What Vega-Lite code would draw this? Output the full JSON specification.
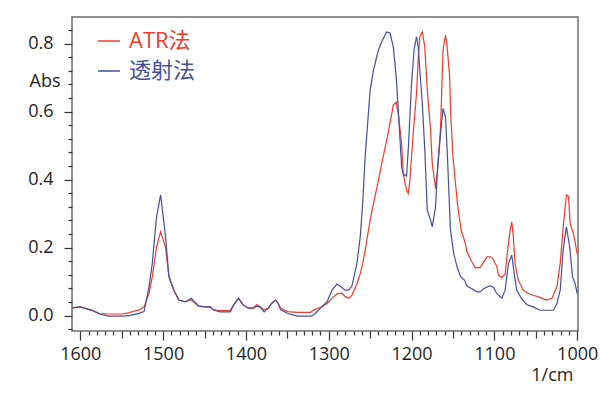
{
  "$schema": "https://vega.github.io/schema/vega-lite/v6.json",
  "width": 506,
  "height": 314,
  "autosize": "none",
  "padding": {"left": 72, "top": 17, "right": 38, "bottom": 63},
  "background": "white",
  "config": {
    "view": {"stroke": "#6d6d6d", "strokeWidth": 1.5},
    "axis": {"domain": false, "grid": false, "tickColor": "#333333", "tickWidth": 1.2, "labelColor": "#231f20", "titleColor": "#231f20", "labelFont": "Open Sans", "titleFont": "Open Sans", "labelFontSize": 18, "titleFontSize": 18, "titleFontWeight": "normal"}
  },
  "data": {"values": [
    {"w":1610,"s":"ATR法","a":0.023},{"w":1600,"s":"ATR法","a":0.026},{"w":1585,"s":"ATR法","a":0.015},{"w":1577,"s":"ATR法","a":0.006},{"w":1566,"s":"ATR法","a":0.005},{"w":1549,"s":"ATR法","a":0.005},{"w":1541,"s":"ATR法","a":0.009},{"w":1529,"s":"ATR法","a":0.017},{"w":1523,"s":"ATR法","a":0.026},{"w":1517,"s":"ATR法","a":0.066},{"w":1513,"s":"ATR法","a":0.115},{"w":1508,"s":"ATR法","a":0.2},{"w":1503,"s":"ATR法","a":0.247},{"w":1497,"s":"ATR法","a":0.2},{"w":1493,"s":"ATR法","a":0.115},{"w":1487,"s":"ATR法","a":0.075},{"w":1481,"s":"ATR法","a":0.046},{"w":1473,"s":"ATR法","a":0.041},{"w":1466,"s":"ATR法","a":0.046},{"w":1457,"s":"ATR法","a":0.028},{"w":1449,"s":"ATR法","a":0.026},{"w":1443,"s":"ATR法","a":0.026},{"w":1439,"s":"ATR法","a":0.017},{"w":1431,"s":"ATR法","a":0.015},{"w":1419,"s":"ATR法","a":0.015},{"w":1415,"s":"ATR法","a":0.031},{"w":1409,"s":"ATR法","a":0.051},{"w":1403,"s":"ATR法","a":0.031},{"w":1397,"s":"ATR法","a":0.022},{"w":1391,"s":"ATR法","a":0.022},{"w":1387,"s":"ATR法","a":0.033},{"w":1383,"s":"ATR法","a":0.026},{"w":1378,"s":"ATR法","a":0.017},{"w":1373,"s":"ATR法","a":0.022},{"w":1369,"s":"ATR法","a":0.036},{"w":1364,"s":"ATR法","a":0.046},{"w":1361,"s":"ATR法","a":0.036},{"w":1358,"s":"ATR法","a":0.022},{"w":1350,"s":"ATR法","a":0.012},{"w":1338,"s":"ATR法","a":0.01},{"w":1322,"s":"ATR法","a":0.01},{"w":1318,"s":"ATR法","a":0.017},{"w":1310,"s":"ATR法","a":0.025},{"w":1302,"s":"ATR法","a":0.036},{"w":1296,"s":"ATR法","a":0.051},{"w":1290,"s":"ATR法","a":0.064},{"w":1284,"s":"ATR法","a":0.066},{"w":1280,"s":"ATR法","a":0.056},{"w":1276,"s":"ATR法","a":0.051},{"w":1272,"s":"ATR法","a":0.06},{"w":1266,"s":"ATR法","a":0.094},{"w":1262,"s":"ATR法","a":0.123},{"w":1259,"s":"ATR法","a":0.153},{"w":1256,"s":"ATR法","a":0.192},{"w":1250,"s":"ATR法","a":0.281},{"w":1246,"s":"ATR法","a":0.329},{"w":1240,"s":"ATR法","a":0.398},{"w":1236,"s":"ATR法","a":0.447},{"w":1230,"s":"ATR法","a":0.516},{"w":1226,"s":"ATR法","a":0.565},{"w":1222,"s":"ATR法","a":0.619},{"w":1218.5,"s":"ATR法","a":0.628},{"w":1216,"s":"ATR法","a":0.594},{"w":1212,"s":"ATR法","a":0.506},{"w":1210,"s":"ATR法","a":0.417},{"w":1206,"s":"ATR法","a":0.369},{"w":1204,"s":"ATR法","a":0.359},{"w":1202,"s":"ATR法","a":0.398},{"w":1200,"s":"ATR法","a":0.467},{"w":1197,"s":"ATR法","a":0.565},{"w":1194,"s":"ATR法","a":0.653},{"w":1192,"s":"ATR法","a":0.751},{"w":1190,"s":"ATR法","a":0.82},{"w":1187,"s":"ATR法","a":0.834},{"w":1184,"s":"ATR法","a":0.79},{"w":1181,"s":"ATR法","a":0.663},{"w":1177,"s":"ATR法","a":0.545},{"w":1175,"s":"ATR法","a":0.447},{"w":1171,"s":"ATR法","a":0.374},{"w":1169,"s":"ATR法","a":0.417},{"w":1165,"s":"ATR法","a":0.55},{"w":1162,"s":"ATR法","a":0.781},{"w":1159,"s":"ATR法","a":0.825},{"w":1157,"s":"ATR法","a":0.79},{"w":1154,"s":"ATR法","a":0.702},{"w":1152.5,"s":"ATR法","a":0.584},{"w":1150,"s":"ATR法","a":0.467},{"w":1147,"s":"ATR法","a":0.39},{"w":1144.5,"s":"ATR法","a":0.329},{"w":1143,"s":"ATR法","a":0.3},{"w":1140,"s":"ATR法","a":0.251},{"w":1135,"s":"ATR法","a":0.212},{"w":1133,"s":"ATR法","a":0.187},{"w":1127,"s":"ATR法","a":0.158},{"w":1123,"s":"ATR法","a":0.141},{"w":1117,"s":"ATR法","a":0.141},{"w":1114,"s":"ATR法","a":0.153},{"w":1109,"s":"ATR法","a":0.173},{"w":1105,"s":"ATR法","a":0.173},{"w":1102,"s":"ATR法","a":0.168},{"w":1097,"s":"ATR法","a":0.145},{"w":1095,"s":"ATR法","a":0.119},{"w":1091,"s":"ATR法","a":0.112},{"w":1087,"s":"ATR法","a":0.123},{"w":1084,"s":"ATR法","a":0.192},{"w":1081,"s":"ATR法","a":0.251},{"w":1079,"s":"ATR法","a":0.276},{"w":1077,"s":"ATR法","a":0.231},{"w":1075,"s":"ATR法","a":0.153},{"w":1071,"s":"ATR法","a":0.104},{"w":1065,"s":"ATR法","a":0.075},{"w":1059,"s":"ATR法","a":0.065},{"w":1053,"s":"ATR法","a":0.06},{"w":1045,"s":"ATR法","a":0.054},{"w":1037,"s":"ATR法","a":0.046},{"w":1030.5,"s":"ATR法","a":0.051},{"w":1024.5,"s":"ATR法","a":0.084},{"w":1020.5,"s":"ATR法","a":0.153},{"w":1016.5,"s":"ATR法","a":0.27},{"w":1013,"s":"ATR法","a":0.355},{"w":1010.5,"s":"ATR法","a":0.35},{"w":1008.4,"s":"ATR法","a":0.27},{"w":1004.4,"s":"ATR法","a":0.241},{"w":1000,"s":"ATR法","a":0.182},
    {"w":1610,"s":"透射法","a":0.023},{"w":1600,"s":"透射法","a":0.026},{"w":1585,"s":"透射法","a":0.015},{"w":1577,"s":"透射法","a":0.005},{"w":1566,"s":"透射法","a":-0.001},{"w":1549,"s":"透射法","a":-0.001},{"w":1541,"s":"透射法","a":0.0},{"w":1529,"s":"透射法","a":0.007},{"w":1523,"s":"透射法","a":0.012},{"w":1517,"s":"透射法","a":0.085},{"w":1513,"s":"透射法","a":0.155},{"w":1508,"s":"透射法","a":0.29},{"w":1503,"s":"透射法","a":0.355},{"w":1497,"s":"透射法","a":0.232},{"w":1493,"s":"透射法","a":0.115},{"w":1487,"s":"透射法","a":0.075},{"w":1481,"s":"透射法","a":0.046},{"w":1473,"s":"透射法","a":0.041},{"w":1466,"s":"透射法","a":0.051},{"w":1457,"s":"透射法","a":0.028},{"w":1449,"s":"透射法","a":0.026},{"w":1443,"s":"透射法","a":0.026},{"w":1439,"s":"透射法","a":0.017},{"w":1431,"s":"透射法","a":0.011},{"w":1419,"s":"透射法","a":0.011},{"w":1415,"s":"透射法","a":0.031},{"w":1409,"s":"透射法","a":0.051},{"w":1403,"s":"透射法","a":0.031},{"w":1397,"s":"透射法","a":0.022},{"w":1391,"s":"透射法","a":0.022},{"w":1387,"s":"透射法","a":0.028},{"w":1383,"s":"透射法","a":0.026},{"w":1378,"s":"透射法","a":0.011},{"w":1373,"s":"透射法","a":0.022},{"w":1369,"s":"透射法","a":0.036},{"w":1364,"s":"透射法","a":0.046},{"w":1361,"s":"透射法","a":0.036},{"w":1358,"s":"透射法","a":0.017},{"w":1350,"s":"透射法","a":0.007},{"w":1338,"s":"透射法","a":-0.001},{"w":1322,"s":"透射法","a":-0.001},{"w":1318,"s":"透射法","a":0.002},{"w":1310,"s":"透射法","a":0.022},{"w":1302,"s":"透射法","a":0.041},{"w":1296,"s":"透射法","a":0.075},{"w":1290,"s":"透射法","a":0.093},{"w":1284,"s":"透射法","a":0.083},{"w":1280,"s":"透射法","a":0.075},{"w":1276,"s":"透射法","a":0.075},{"w":1272,"s":"透射法","a":0.087},{"w":1266,"s":"透射法","a":0.153},{"w":1262,"s":"透射法","a":0.231},{"w":1259,"s":"透射法","a":0.329},{"w":1256,"s":"透射法","a":0.467},{"w":1250,"s":"透射法","a":0.663},{"w":1246,"s":"透射法","a":0.722},{"w":1240,"s":"透射法","a":0.781},{"w":1236,"s":"透射法","a":0.805},{"w":1230,"s":"透射法","a":0.834},{"w":1226,"s":"透射法","a":0.831},{"w":1222,"s":"透射法","a":0.79},{"w":1218.5,"s":"透射法","a":0.702},{"w":1216,"s":"透射法","a":0.605},{"w":1212,"s":"透射法","a":0.437},{"w":1210,"s":"透射法","a":0.417},{"w":1206,"s":"透射法","a":0.41},{"w":1204,"s":"透射法","a":0.487},{"w":1202,"s":"透射法","a":0.584},{"w":1200,"s":"透射法","a":0.682},{"w":1197,"s":"透射法","a":0.781},{"w":1194,"s":"透射法","a":0.82},{"w":1192,"s":"透射法","a":0.79},{"w":1190,"s":"透射法","a":0.722},{"w":1187,"s":"透射法","a":0.624},{"w":1184,"s":"透射法","a":0.487},{"w":1181,"s":"透射法","a":0.31},{"w":1177,"s":"透射法","a":0.281},{"w":1175,"s":"透射法","a":0.261},{"w":1171,"s":"透射法","a":0.32},{"w":1169,"s":"透射法","a":0.417},{"w":1165,"s":"透射法","a":0.535},{"w":1162,"s":"透射法","a":0.609},{"w":1159,"s":"透射法","a":0.584},{"w":1157,"s":"透射法","a":0.487},{"w":1155,"s":"透射法","a":0.369},{"w":1153,"s":"透射法","a":0.251},{"w":1149,"s":"透射法","a":0.182},{"w":1145,"s":"透射法","a":0.143},{"w":1141,"s":"透射法","a":0.116},{"w":1136,"s":"透射法","a":0.104},{"w":1133,"s":"透射法","a":0.087},{"w":1125,"s":"透射法","a":0.076},{"w":1121,"s":"透射法","a":0.07},{"w":1117,"s":"透射法","a":0.07},{"w":1113,"s":"透射法","a":0.079},{"w":1105,"s":"透射法","a":0.088},{"w":1101,"s":"透射法","a":0.083},{"w":1097,"s":"透射法","a":0.065},{"w":1091,"s":"透射法","a":0.052},{"w":1087,"s":"透射法","a":0.075},{"w":1083,"s":"透射法","a":0.153},{"w":1079,"s":"透射法","a":0.178},{"w":1076,"s":"透射法","a":0.123},{"w":1073,"s":"透射法","a":0.075},{"w":1067,"s":"透射法","a":0.05},{"w":1061,"s":"透射法","a":0.033},{"w":1053,"s":"透射法","a":0.026},{"w":1045,"s":"透射法","a":0.016},{"w":1037,"s":"透射法","a":0.016},{"w":1028.6,"s":"透射法","a":0.016},{"w":1024.5,"s":"透射法","a":0.036},{"w":1020.5,"s":"透射法","a":0.075},{"w":1017,"s":"透射法","a":0.192},{"w":1013,"s":"透射法","a":0.261},{"w":1009,"s":"透射法","a":0.202},{"w":1005.6,"s":"透射法","a":0.114},{"w":1002.4,"s":"透射法","a":0.094},{"w":1000,"s":"透射法","a":0.065}
  ]},
  "mark": {"type": "line", "strokeWidth": 1.2, "clip": true},
  "encoding": {
    "x": {
      "field": "w", "type": "quantitative",
      "scale": {"domain": [999, 1610], "reverse": true, "nice": false, "zero": false},
      "axis": {
        "values": [1000,1010,1020,1030,1040,1050,1060,1070,1080,1090,1100,1110,1120,1130,1140,1150,1160,1170,1180,1190,1200,1210,1220,1230,1240,1250,1260,1270,1280,1290,1300,1310,1320,1330,1340,1350,1360,1370,1380,1390,1400,1410,1420,1430,1440,1450,1460,1470,1480,1490,1500,1510,1520,1530,1540,1550,1560,1570,1580,1590,1600],
        "labelExpr": "datum.value % 100 === 0 ? datum.label : ''",
        "format": "d",
        "labelOverlap": false,
        "labelFlush": false,
        "tickSize": {"condition": [{"test": "datum.value % 100 === 0", "value": 9}, {"test": "datum.value % 50 === 0", "value": 7}], "value": 4},
        "labelPadding": 5,
        "title": "1/cm",
        "titleAngle": 0,
        "titleAlign": "right",
        "titleBaseline": "alphabetic",
        "titleX": 501,
        "titleY": 49
      }
    },
    "y": {
      "field": "a", "type": "quantitative",
      "scale": {"domain": [-0.045, 0.878], "nice": false, "zero": false},
      "axis": {
        "values": [-0.04,0,0.04,0.08,0.12,0.16,0.2,0.24,0.28,0.32,0.36,0.4,0.44,0.48,0.52,0.56,0.6,0.64,0.68,0.72,0.76,0.8,0.84],
        "labelExpr": "abs(datum.value*5 - round(datum.value*5)) < 0.001 ? format(datum.value, '.1f') : ''",
        "labelOverlap": false,
        "labelFlush": false,
        "tickSize": {"condition": {"test": "abs(datum.value*5 - round(datum.value*5)) < 0.001", "value": 8}, "value": 4},
        "labelPadding": 11,
        "title": "Abs",
        "titleAngle": 0,
        "titleAlign": "right",
        "titleBaseline": "alphabetic",
        "titleX": -12,
        "titleY": 69
      }
    },
    "color": {
      "field": "s", "type": "nominal",
      "scale": {"domain": ["ATR法", "透射法"], "range": ["#ee3b2b", "#464e9e"]},
      "legend": {
        "title": null,
        "orient": "none",
        "legendX": 25,
        "legendY": 12,
        "padding": 0,
        "symbolType": "stroke",
        "symbolSize": 484,
        "symbolStrokeWidth": 1.5,
        "labelFontSize": 22,
        "labelFont": "Open Sans, Noto Sans CJK SC",
        "labelOffset": 8,
        "rowPadding": 7,
        "labelLimit": 300,
        "encode": {"labels": {"update": {"fill": {"scale": "color", "field": "value"}}}}
      }
    }
  }
}
